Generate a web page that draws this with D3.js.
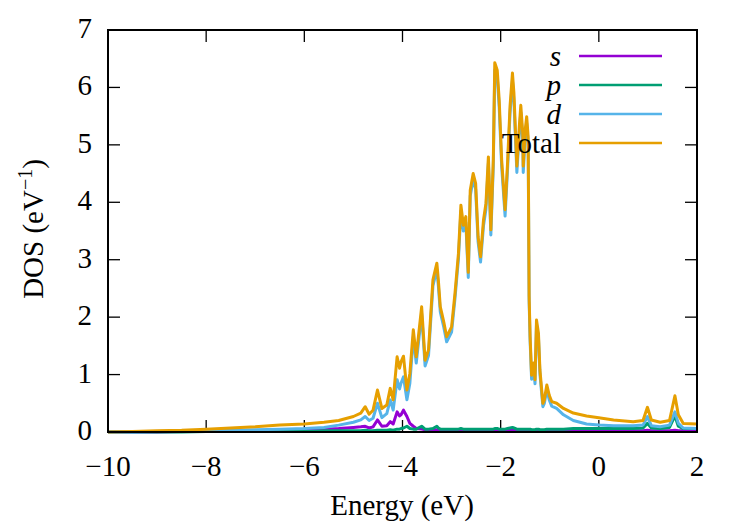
<!DOCTYPE html>
<html>
<head>
<meta charset="utf-8">
<script src="https://cdn.jsdelivr.net/npm/d3@7"></script>
<style>
body{margin:0;background:#fff;}
text{font-family:"Liberation Serif","DejaVu Serif",serif;fill:#000;}
</style>
</head>
<body>
<script>
// energies (eV) and partial / total DOS
var energy = [-10.0,-9.5,-9.0,-8.5,-8.0,-7.5,-7.0,-6.5,-6.0,-5.6,-5.3,-5.0,-4.85,-4.76,-4.68,-4.60,-4.51,-4.42,-4.32,-4.25,-4.19,-4.11,-4.06,-4.03,-3.98,-3.91,-3.85,-3.78,-3.72,-3.61,-3.54,-3.47,-3.38,-3.30,-3.27,-3.23,-3.20,-3.16,-3.10,-3.00,-2.93,-2.86,-2.81,-2.76,-2.71,-2.66,-2.62,-2.56,-2.51,-2.46,-2.41,-2.35,-2.30,-2.25,-2.20,-2.15,-2.12,-2.07,-2.03,-1.98,-1.91,-1.86,-1.81,-1.76,-1.73,-1.67,-1.62,-1.59,-1.55,-1.54,-1.50,-1.47,-1.44,-1.42,-1.40,-1.37,-1.33,-1.30,-1.27,-1.23,-1.20,-1.14,-1.11,-1.06,-1.01,-0.96,-0.86,-0.72,-0.52,-0.25,0.00,0.30,0.70,0.90,0.99,1.07,1.25,1.44,1.55,1.62,1.72,2.00];
var dosTotal = [0.00,0.01,0.02,0.03,0.05,0.07,0.09,0.12,0.14,0.17,0.20,0.27,0.33,0.44,0.31,0.38,0.73,0.41,0.47,0.76,0.56,1.31,1.11,1.22,1.32,0.73,1.02,1.78,1.31,2.18,1.25,1.43,2.65,2.94,2.65,2.18,2.07,1.92,1.66,1.83,2.42,3.11,3.95,3.60,3.75,2.78,4.21,4.50,4.33,3.40,3.05,3.69,3.98,4.79,3.52,4.74,6.43,6.30,5.78,4.74,3.87,4.68,5.66,6.25,5.90,4.63,5.32,5.69,5.20,4.63,5.26,5.49,5.14,2.36,1.66,0.99,1.20,0.91,1.95,1.72,1.08,0.50,0.56,0.82,0.64,0.53,0.50,0.41,0.33,0.28,0.25,0.21,0.18,0.20,0.43,0.21,0.17,0.20,0.63,0.30,0.15,0.14];
var dosD = [0.00,0.00,0.01,0.01,0.02,0.03,0.04,0.05,0.06,0.08,0.12,0.17,0.21,0.27,0.20,0.24,0.50,0.25,0.32,0.56,0.38,0.91,0.75,0.85,0.96,0.56,0.85,1.66,1.20,2.06,1.15,1.33,2.55,2.83,2.55,2.09,1.98,1.83,1.57,1.74,2.33,3.02,3.85,3.50,3.65,2.69,4.11,4.40,4.23,3.31,2.96,3.59,3.88,4.68,3.43,4.63,6.30,6.18,5.66,4.63,3.76,4.57,5.54,6.12,5.77,4.52,5.21,5.57,5.09,4.52,5.15,5.38,5.03,2.27,1.58,0.92,1.13,0.84,1.87,1.64,1.01,0.44,0.50,0.74,0.56,0.45,0.41,0.30,0.20,0.14,0.12,0.11,0.11,0.12,0.27,0.11,0.09,0.12,0.35,0.15,0.07,0.06];
var dosS = [0.00,0.00,0.00,0.01,0.01,0.01,0.02,0.03,0.04,0.05,0.06,0.08,0.09,0.10,0.07,0.09,0.21,0.10,0.11,0.18,0.14,0.35,0.28,0.30,0.38,0.27,0.15,0.10,0.06,0.05,0.04,0.04,0.04,0.04,0.04,0.03,0.03,0.03,0.03,0.03,0.03,0.03,0.03,0.03,0.03,0.03,0.03,0.03,0.03,0.03,0.03,0.03,0.03,0.03,0.03,0.03,0.03,0.03,0.03,0.03,0.03,0.03,0.03,0.03,0.03,0.03,0.03,0.03,0.03,0.03,0.03,0.03,0.03,0.02,0.02,0.02,0.02,0.02,0.02,0.02,0.02,0.02,0.02,0.02,0.02,0.02,0.02,0.02,0.02,0.02,0.02,0.02,0.02,0.02,0.03,0.02,0.02,0.02,0.03,0.02,0.02,0.01];
var dosP = [0.00,0.00,0.00,0.00,0.01,0.01,0.01,0.01,0.01,0.02,0.02,0.02,0.02,0.03,0.02,0.02,0.03,0.03,0.03,0.04,0.03,0.05,0.05,0.06,0.07,0.10,0.06,0.05,0.05,0.10,0.05,0.05,0.06,0.10,0.07,0.05,0.05,0.05,0.05,0.05,0.05,0.05,0.06,0.05,0.05,0.05,0.05,0.05,0.05,0.05,0.05,0.05,0.05,0.05,0.05,0.05,0.06,0.06,0.05,0.05,0.05,0.06,0.07,0.08,0.07,0.05,0.05,0.05,0.05,0.05,0.05,0.05,0.05,0.05,0.05,0.04,0.04,0.04,0.05,0.05,0.04,0.04,0.04,0.05,0.05,0.05,0.05,0.05,0.06,0.06,0.06,0.06,0.06,0.07,0.15,0.07,0.06,0.08,0.28,0.10,0.06,0.06];

var seriesNames = ["s","p","d","Total"];
var seriesColors = ["#9400d3","#009e73","#56b4e9","#e69f00"];
var xTicks = [-10,-8,-6,-4,-2,0,2];
var yTicks = [0,1,2,3,4,5,6,7];

var width = 750, height = 525;
var pLeft = 108, pRight = 697, pTop = 30, pBottom = 432;

var svg = d3.select("body").append("svg").attr("width",width).attr("height",height);

var x = d3.scaleLinear().domain([-10,2]).range([pLeft,pRight]);
var y = d3.scaleLinear().domain([0,7]).range([pBottom,pTop]);

// ticks on all four sides, pointing inward
var tickLen = 12;
var tk = svg.append("g").attr("stroke","#000").attr("stroke-width",1.3);
xTicks.forEach(function(t){
  tk.append("line").attr("x1",x(t)).attr("x2",x(t)).attr("y1",pBottom).attr("y2",pBottom-tickLen);
  tk.append("line").attr("x1",x(t)).attr("x2",x(t)).attr("y1",pTop).attr("y2",pTop+tickLen);
});
yTicks.forEach(function(t){
  tk.append("line").attr("x1",pLeft).attr("x2",pLeft+tickLen).attr("y1",y(t)).attr("y2",y(t));
  tk.append("line").attr("x1",pRight).attr("x2",pRight-tickLen).attr("y1",y(t)).attr("y2",y(t));
});

// curves
var dataSets = [dosS,dosP,dosD,dosTotal];
dataSets.forEach(function(vals,k){
  var line = d3.line()
      .x(function(d,i){return x(energy[i]);})
      .y(function(d){return y(d);});
  svg.append("path")
     .attr("fill","none")
     .attr("stroke",seriesColors[k])
     .attr("stroke-width",3)
     .attr("stroke-linejoin","round")
     .attr("d",line(vals));
});

// frame
svg.append("rect").attr("x",pLeft).attr("y",pTop).attr("width",pRight-pLeft).attr("height",pBottom-pTop)
   .attr("fill","none").attr("stroke","#000").attr("stroke-width",2);

// tick labels
svg.selectAll("text.xt").data(xTicks).enter().append("text")
   .attr("class","xt").attr("x",function(d){return x(d);}).attr("y",476)
   .attr("text-anchor","middle").style("font-size","29px")
   .text(function(d){return d<0 ? "\u2212"+Math.abs(d) : d;});
svg.selectAll("text.yt").data(yTicks).enter().append("text")
   .attr("class","yt").attr("x",92).attr("y",function(d){return y(d)+8;})
   .attr("text-anchor","end").style("font-size","29px")
   .text(function(d){return d;});

// axis titles
svg.append("text").attr("x",402).attr("y",515).attr("text-anchor","middle")
   .style("font-size","29px").text("Energy (eV)");
var yl = svg.append("text").attr("transform","translate(43,229) rotate(-90)")
   .attr("text-anchor","middle").style("font-size","29px");
yl.append("tspan").text("DOS (eV");
yl.append("tspan").attr("dy",-11).style("font-size","20px").text("\u22121");
yl.append("tspan").attr("dy",11).text(")");

// legend
var key = svg.append("g");
seriesNames.forEach(function(n,k){
  var ly = 56 + k*29;
  key.append("line").attr("x1",579).attr("x2",662).attr("y1",ly).attr("y2",ly)
     .attr("stroke",seriesColors[k]).attr("stroke-width",2.6);
  key.append("text").attr("x",561).attr("y",ly+10).attr("text-anchor","end")
     .style("font-size","29px").style("font-style",k<3?"italic":"normal").text(n);
});
</script>
</body>
</html>
